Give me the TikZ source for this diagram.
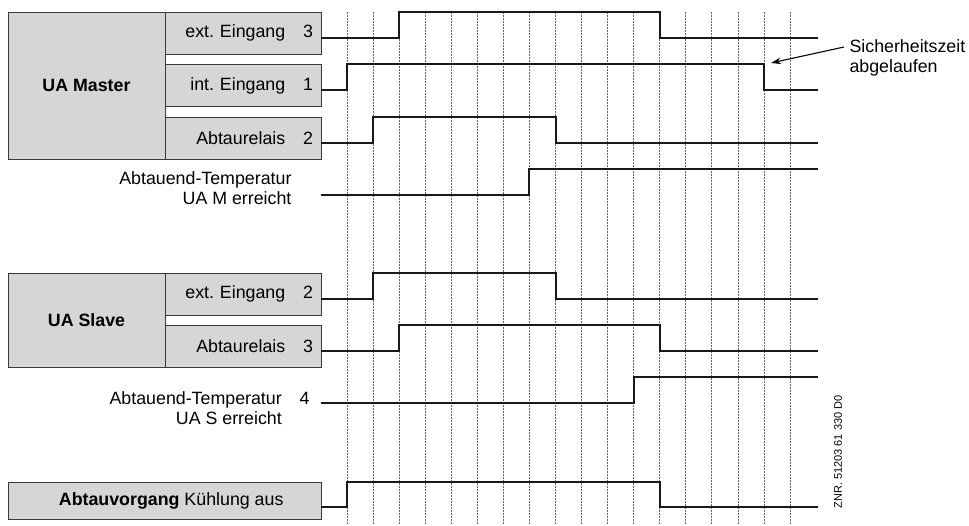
\documentclass[tikz,border=0pt]{standalone}
\usepackage{fontspec}
\setmainfont{Liberation Sans}
\usepackage{tikz}
\usetikzlibrary{arrows.meta}
\usetikzlibrary{calc}

\definecolor{boxgray}{HTML}{D6D6D6}
\definecolor{rahmen}{HTML}{3A3A3A}
\frenchspacing

\tikzset{
    box/.style={draw=rahmen, line width=0.8pt, fill=boxgray, inner sep=0pt},
    subbox/.style={box, minimum width=156pt, minimum height=42pt, text width=140pt, align=right},
    txt/.style={font=\fontsize{17.8}{20.5}\selectfont},
    signal/.style={line width=2.9pt, color=black!90},
    raster/.style={gray!80!black, line width=0.7pt, dash pattern=on 1.6pt off 1.4pt},
    pfeil/.style={line width=1.1pt, -{Stealth[length=10pt, width=6.5pt]}}
}

\begin{document}
\begin{tikzpicture}[x=1pt, y=-1pt, txt]
                \useasboundingbox (0,0) rectangle (969,526);
                % Raster
                \foreach \i in {0,...,17} {
                    \draw[raster] (347+26.06*\i,12) -- (347+26.06*\i,524);
                }
                % UA Master
                \node[box, minimum width=157pt, minimum height=147pt] (master) at (86.5,85.5) {\textbf{UA Master}};
                \node[subbox] (mext) at (243,33) {ext. Eingang\quad 3};
                \node[subbox] (mint) at (243,85.5) {int. Eingang\quad 1};
                \node[subbox] (mrel) at (243,138) {Abtaurelais\quad 2};
                \node[anchor=east, align=right] (mtemp) at (295,188) {Abtauend-Temperatur\\UA M erreicht};
                \draw[signal] (321,38) -| (399,12) -| (660,38) -- (818,38);
                \draw[signal] (321,90) -| (347,64) -| (764,90) -- (818,90);
                \draw[signal] (321,143) -| (373,117) -| (556,143) -- (818,143);
                \draw[signal] (321,195) -| (529,169) -- (818,169);
                % Sicherheitszeit
                \node[anchor=west, align=left] (sz) at (846,58) {Sicherheitszeit\\abgelaufen};
                \coordinate (szende) at (771,63);
                \draw[pfeil] ($(sz.west)+(-2,-11)$) -- (szende);
                % UA Slave
                \node[box, minimum width=157pt, minimum height=94pt] (slave) at (86.5,320) {\textbf{UA Slave}};
                \node[subbox] (sext) at (243,294) {ext. Eingang\quad 2};
                \node[subbox] (srel) at (243,346) {Abtaurelais\quad 3};
                \node[anchor=east, align=right] (stemp) at (313,408) {Abtauend-Temperatur\quad 4\\UA S erreicht\hphantom{\quad 4}};
                \draw[signal] (321,299) -| (373,273) -| (556,299) -- (818,299);
                \draw[signal] (321,351) -| (399,325) -| (660,351) -- (818,351);
                \draw[signal] (321,403) -| (634,377) -- (818,377);
                % Abtauvorgang
                \node[box, minimum width=313pt, minimum height=37pt] (vorgang) at (164.5,500.5) {};
                \node[anchor=east] (vtext) at (287,501) {\textbf{Abtauvorgang} Kühlung aus};
                \draw[signal] (321,507) -| (347,482) -| (660,507) -- (818,507);
                % ZNR
                \node[rotate=90, font=\fontsize{11}{13}\selectfont] (znr) at (838,452) {ZNR. 51203 61 330 D0};
            \end{tikzpicture}
\end{document}
